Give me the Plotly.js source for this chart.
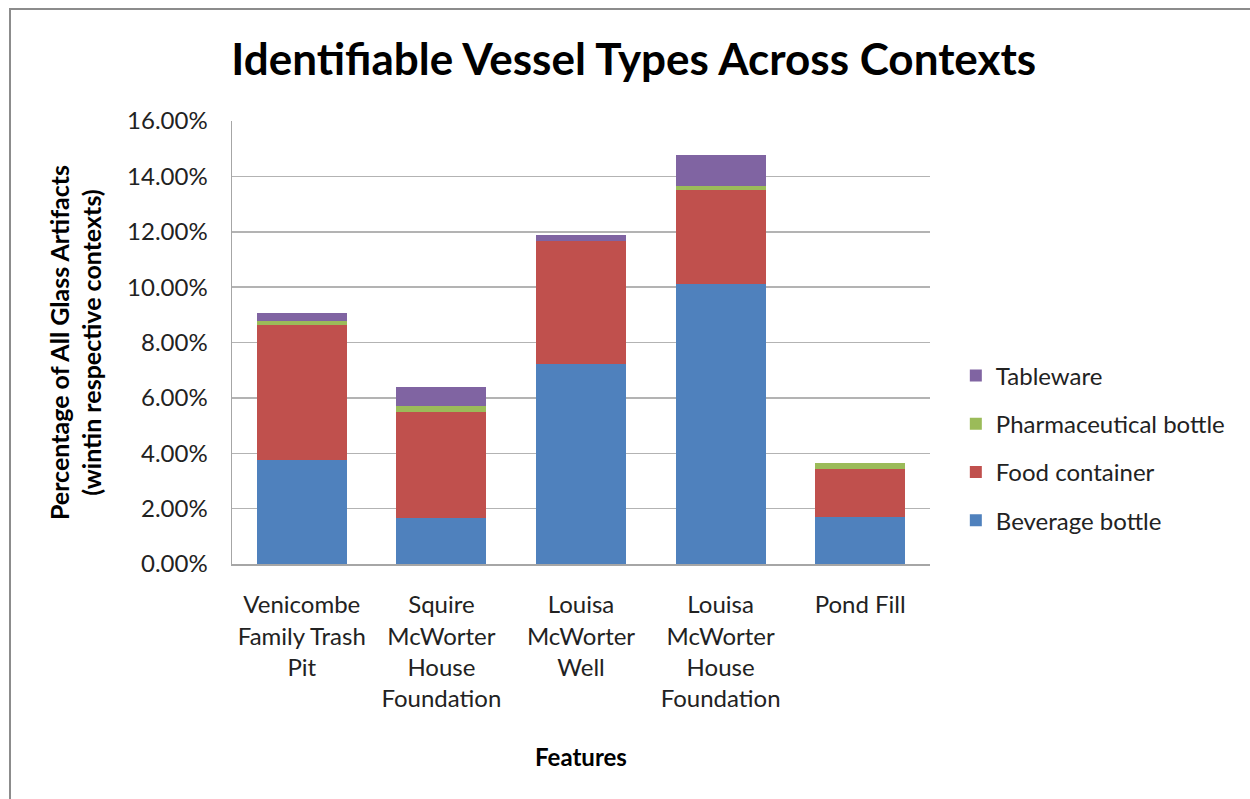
<!DOCTYPE html>
<html>
<head>
<meta charset="utf-8">
<script src="https://cdn.plot.ly/plotly-3.0.1.min.js"></script>
<style>
html,body{margin:0;padding:0;background:#fff;}
#chart{width:1250px;height:799px;position:absolute;left:0;top:0;}
#frame{position:absolute;left:9px;top:8px;width:1260px;height:820px;border:2px solid #8c8c8c;pointer-events:none;}
</style>
</head>
<body>
<div id="chart"></div>
<div id="frame"></div>
<script>
var categories = [
  "Venicombe<br>Family Trash<br>Pit",
  "Squire<br>McWorter<br>House<br>Foundation",
  "Louisa<br>McWorter<br>Well",
  "Louisa<br>McWorter<br>House<br>Foundation",
  "Pond Fill"
];
var beverageBottle = [0.0375, 0.0166, 0.0722, 0.1012, 0.0170];
var foodContainer = [0.0490, 0.0383, 0.0445, 0.0339, 0.0172];
var pharmaceuticalBottle = [0.0013, 0.0023, 0.0000, 0.0015, 0.0023];
var tableware = [0.0029, 0.0067, 0.0023, 0.0111, 0.0000];
var yTickValues = [0, 0.02, 0.04, 0.06, 0.08, 0.10, 0.12, 0.14, 0.16];

var FONT = "Lato, 'Open Sans', sans-serif";
function mk(name, vals, color, rank) {
  return {type: 'bar', name: name, x: categories, y: vals, legendgroup: name, legendrank: rank,
    marker: {color: color, line: {width: 0}}, hoverinfo: 'y+name'};
}
var data = [
  mk('Beverage bottle', beverageBottle, '#4F81BD', 4),
  mk('Food container', foodContainer, '#C0504D', 3),
  mk('Pharmaceutical bottle', pharmaceuticalBottle, '#9BBB59', 2),
  mk('Tableware', tableware, '#8064A2', 1)
];
var layout = {
  width: 1250, height: 799,
  paper_bgcolor: '#fff', plot_bgcolor: '#fff',
  barmode: 'stack', bargap: 0.355,
  margin: {l: 232, r: 320, t: 121, b: 235, pad: 0},
  font: {family: FONT, size: 20, color: '#222'},
  title: {text: '<b>Identifiable Vessel Types Across Contexts</b>', x: 0.507, xref: 'container', xanchor: 'center',
    y: 0.925, yanchor: 'middle', font: {family: FONT, size: 44, color: '#000'}},
  xaxis: {
    type: 'category', showgrid: false, showline: true, linecolor: '#a6a6a6', linewidth: 1.5,
    ticks: '', ticklabelstandoff: 19, tickfont: {family: FONT, size: 24, color: '#222'},
    title: {text: '<b>Features</b>', standoff: 38, font: {family: FONT, size: 24, color: '#000'}},
    automargin: false
  },
  yaxis: {
    range: [0, 0.16], tickvals: yTickValues, tickformat: '.2%',
    showgrid: true, gridcolor: '#b3b3b3', gridwidth: 1.5,
    showline: true, linecolor: '#a6a6a6', linewidth: 1.5, zeroline: false,
    ticks: '', ticklen: 0, ticklabelstandoff: 18, tickfont: {family: FONT, size: 24, color: '#222'},
    title: {text: '<b>Percentage of All Glass Artifacts<br>(wintin respective contexts)</b>', standoff: 18,
      font: {family: FONT, size: 25, color: '#000'}},
    automargin: false
  },
  legend: {x: 1.037, xanchor: 'left', y: 0.262, yanchor: 'middle',
    traceorder: 'grouped', tracegroupgap: 14,
    font: {family: FONT, size: 24, color: '#222'}, itemwidth: 30, bgcolor: 'rgba(0,0,0,0)'},
  showlegend: true
};
Plotly.newPlot('chart', data, layout, {displayModeBar: false, staticPlot: true});
</script>
</body>
</html>
